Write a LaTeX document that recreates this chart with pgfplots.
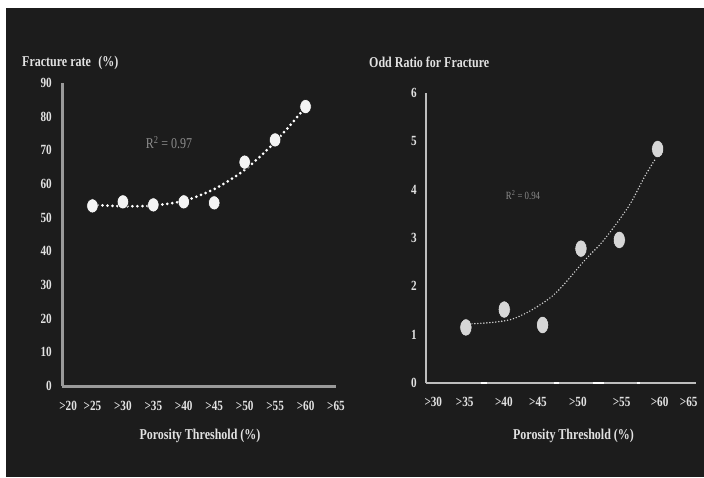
\documentclass[border=0pt]{standalone}
\usepackage{fontspec}
\setmainfont{Liberation Serif}[FakeStretch=0.8]
\usepackage{pgfplots}
\pgfplotsset{compat=1.18}
\definecolor{bg}{HTML}{1C1C1C}
\definecolor{axl}{HTML}{9A9A9A}
\definecolor{axr}{HTML}{BDBDBD}
\definecolor{txt}{HTML}{E2E2E2}
\definecolor{rsq}{HTML}{8C8C8C}
\definecolor{ptl}{HTML}{F4F4F4}
\definecolor{ptr}{HTML}{D6D6D6}
\begin{document}
\begin{tikzpicture}[x=1pt,y=1pt]
\fill[white] (0,0) rectangle (704,477);
\fill[bg] (6,0) rectangle (704,469);
\useasboundingbox (0,0) rectangle (704,477);

\pgfplotsset{
  myaxis/.style={
    scale only axis, anchor=south west, clip=false,
    axis lines=left, axis line style={-},
    major tick length=0pt, minor tick num=0,
    tick style={draw=none},
    ticklabel style={font=\bfseries\fontsize{14}{16}\selectfont, text=txt, inner sep=0pt},
    /pgf/number format/assume math mode=true,
    yticklabel style={anchor=east, xshift=-10pt},
    xticklabel style={anchor=center, yshift=-20pt},
  }
}

% Left chart
\begin{axis}[myaxis,
  at={(62pt,91pt)}, width=274pt, height=303pt,
  xmin=0, xmax=9, ymin=0, ymax=90,
  axis line style={draw=axl, line width=3pt},
  xtick={0.2,1,2,3,4,5,6,7,8,9},
  xticklabels={>20,>25,>30,>35,>40,>45,>50,>55,>60,>65},
  ytick={0,10,...,90},
]
\addplot[smooth, white, line width=3pt, line cap=round, dash pattern=on 0pt off 5pt]
  coordinates {(1,53.8)(2,53.4)(3,53.6)(4,55.0)(5,58.5)(6,64.2)(7,72.5)(8,82.8)};
\addplot[only marks, mark=*, mark size=7pt, mark options={fill=ptl, draw=none, xscale=0.81}]
  coordinates {(1,53.5)(2,54.7)(3,53.8)(4,54.7)(5,54.4)(6,66.5)(7,73.1)(8,83.0)};
\end{axis}

% Right chart
\begin{axis}[myaxis,
  at={(426pt,94pt)}, width=270pt, height=290pt,
  xmin=-0.04, xmax=7, ymin=0, ymax=6,
  axis line style={draw=axr, line width=2pt},
  xtick={0.15,0.97,1.99,2.88,3.92,5.06,6.05,6.81},
  xticklabels={>30,>35,>40,>45,>50,>55,>60,>65},
  ytick={0,1,...,6},
  yticklabel style={xshift=1pt},
  xticklabel style={yshift=1pt},
]
\addplot[white, line width=2pt] coordinates {(1.385,0)(1.555,0)};
\addplot[white, line width=2pt] coordinates {(3.305,0)(3.435,0)};
\addplot[white, line width=2pt] coordinates {(4.31,0)(4.61,0)};
\addplot[white, line width=2pt] coordinates {(5.45,0)(5.55,0)};
\addplot[smooth, ptr, line width=1.6pt, line cap=round, dash pattern=on 0pt off 3pt]
  coordinates {(1,1.22)(2.2,1.32)(3.24,1.79)(4.1,2.54)(4.6,2.96)(5.24,3.65)(5.66,4.27)(5.92,4.61)};
\addplot[only marks, mark=*, mark size=8.6pt, mark options={fill=ptr, draw=none, xscale=0.7}]
  coordinates {(1,1.15)(2,1.52)(3,1.20)(4,2.78)(5,2.96)(6,4.84)};
\end{axis}

% Titles and labels
\node[anchor=west, text=txt, font=\bfseries\fontsize{15}{17}\selectfont, inner sep=0] at (22,414) {Fracture rate\enspace(\%)};
\node[anchor=west, text=txt, font=\bfseries\fontsize{15}{17}\selectfont, inner sep=0] at (369,414.5) {Odd Ratio for Fracture};
\node[text=txt, font=\bfseries\fontsize{15}{17}\selectfont, inner sep=0] at (200,41) {Porosity Threshold (\%)};
\node[text=txt, font=\bfseries\fontsize{15}{17}\selectfont, inner sep=0] at (573.5,41) {Porosity Threshold (\%)};
\node[text=rsq, font=\fontsize{15}{17}\selectfont, inner sep=0] at (169,334) {R\textsuperscript{2} = 0.97};
\node[text=rsq, font=\fontsize{11}{13}\selectfont, inner sep=0] at (523,282) {R\textsuperscript{2} = 0.94};
\end{tikzpicture}
\end{document}
